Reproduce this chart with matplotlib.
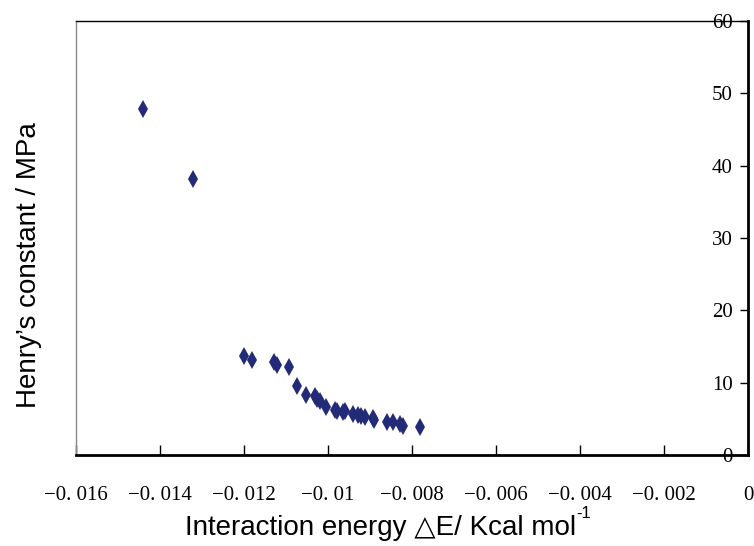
import matplotlib
matplotlib.use("Agg")
import matplotlib.pyplot as plt

# Interaction energy (Kcal/mol) and Henry's constant (MPa)
energy = [-0.01440, -0.01321, -0.01199, -0.01181, -0.01128, -0.01121, -0.01092,
          -0.01074, -0.01053, -0.01032, -0.01025, -0.01019, -0.01005, -0.00983,
          -0.00978, -0.00965, -0.00960, -0.00940, -0.00929, -0.00922, -0.00912,
          -0.00894, -0.00890, -0.00860, -0.00846, -0.00829, -0.00821, -0.00781]
henry = [47.9, 38.2, 13.7, 13.2, 12.9, 12.5, 12.2,
         9.6, 8.3, 8.2, 7.7, 7.4, 6.65, 6.2,
         6.1, 6.0, 6.05, 5.7, 5.5, 5.4, 5.2,
         5.1, 4.9, 4.5, 4.55, 4.3, 4.0, 3.8]

x_ticks = [-0.016, -0.014, -0.012, -0.010, -0.008, -0.006, -0.004, -0.002, 0.0]
x_tick_labels = ["\u22120. 016", "\u22120. 014", "\u22120. 012", "\u22120. 01",
                 "\u22120. 008", "\u22120. 006", "\u22120. 004", "\u22120. 002", "0"]
y_ticks = [0, 10, 20, 30, 40, 50, 60]

navy = "#232a78"
serif = ["Liberation Serif", "DejaVu Serif"]
sans = ["Liberation Sans", "DejaVu Sans"]

fig = plt.figure(figsize=(7.54, 5.46), dpi=100)
ax = fig.add_axes([0.1008, 0.1667, 0.8912, 0.7948])

# diamonds in the original are taller than wide
ax.plot(energy, henry, linestyle="none", marker="d", markersize=9,
        color=navy, markeredgewidth=0, zorder=3)

ax.set_xlim(-0.016, 0.0)
ax.set_ylim(0, 60)

# spines
ax.spines["left"].set_color("#888888")
ax.spines["left"].set_linewidth(1.0)
ax.spines["top"].set_color("black")
ax.spines["top"].set_linewidth(1.0)
ax.spines["right"].set_linewidth(2.0)
ax.spines["bottom"].set_linewidth(2.0)

# x axis: inward ticks, labels below
ax.set_xticks(x_ticks)
ax.set_xticklabels(x_tick_labels, family=serif, fontsize=15)
ax.tick_params(axis="x", direction="in", length=7, width=1.0, pad=22,
               top=False, bottom=True)

# y axis on the right, labels inside the plot
ax.yaxis.tick_right()
ax.set_yticks(y_ticks)
ax.set_yticklabels([str(v) for v in y_ticks], family=serif, fontsize=15)
ax.tick_params(axis="y", direction="in", length=6, width=1.0, pad=-11,
               left=False, right=True)
for lab in ax.get_yticklabels():
    lab.set_horizontalalignment("right")

# axis titles (superscript added as a separate text after the main label)
xl = fig.text(0.505, 0.033, "Interaction energy \u25b3E/ Kcal mol",
              ha="center", va="center", fontsize=20, family=sans)
ax.annotate("-1", xy=(1, 0.78), xycoords=xl, ha="left", va="bottom",
            fontsize=12, family=sans, annotation_clip=False)
fig.text(0.038, 0.515, "Henry\u2019s constant / MPa", rotation=90,
         ha="center", va="center", fontsize=20, family=sans)

fig.savefig("out.png", dpi=100)
